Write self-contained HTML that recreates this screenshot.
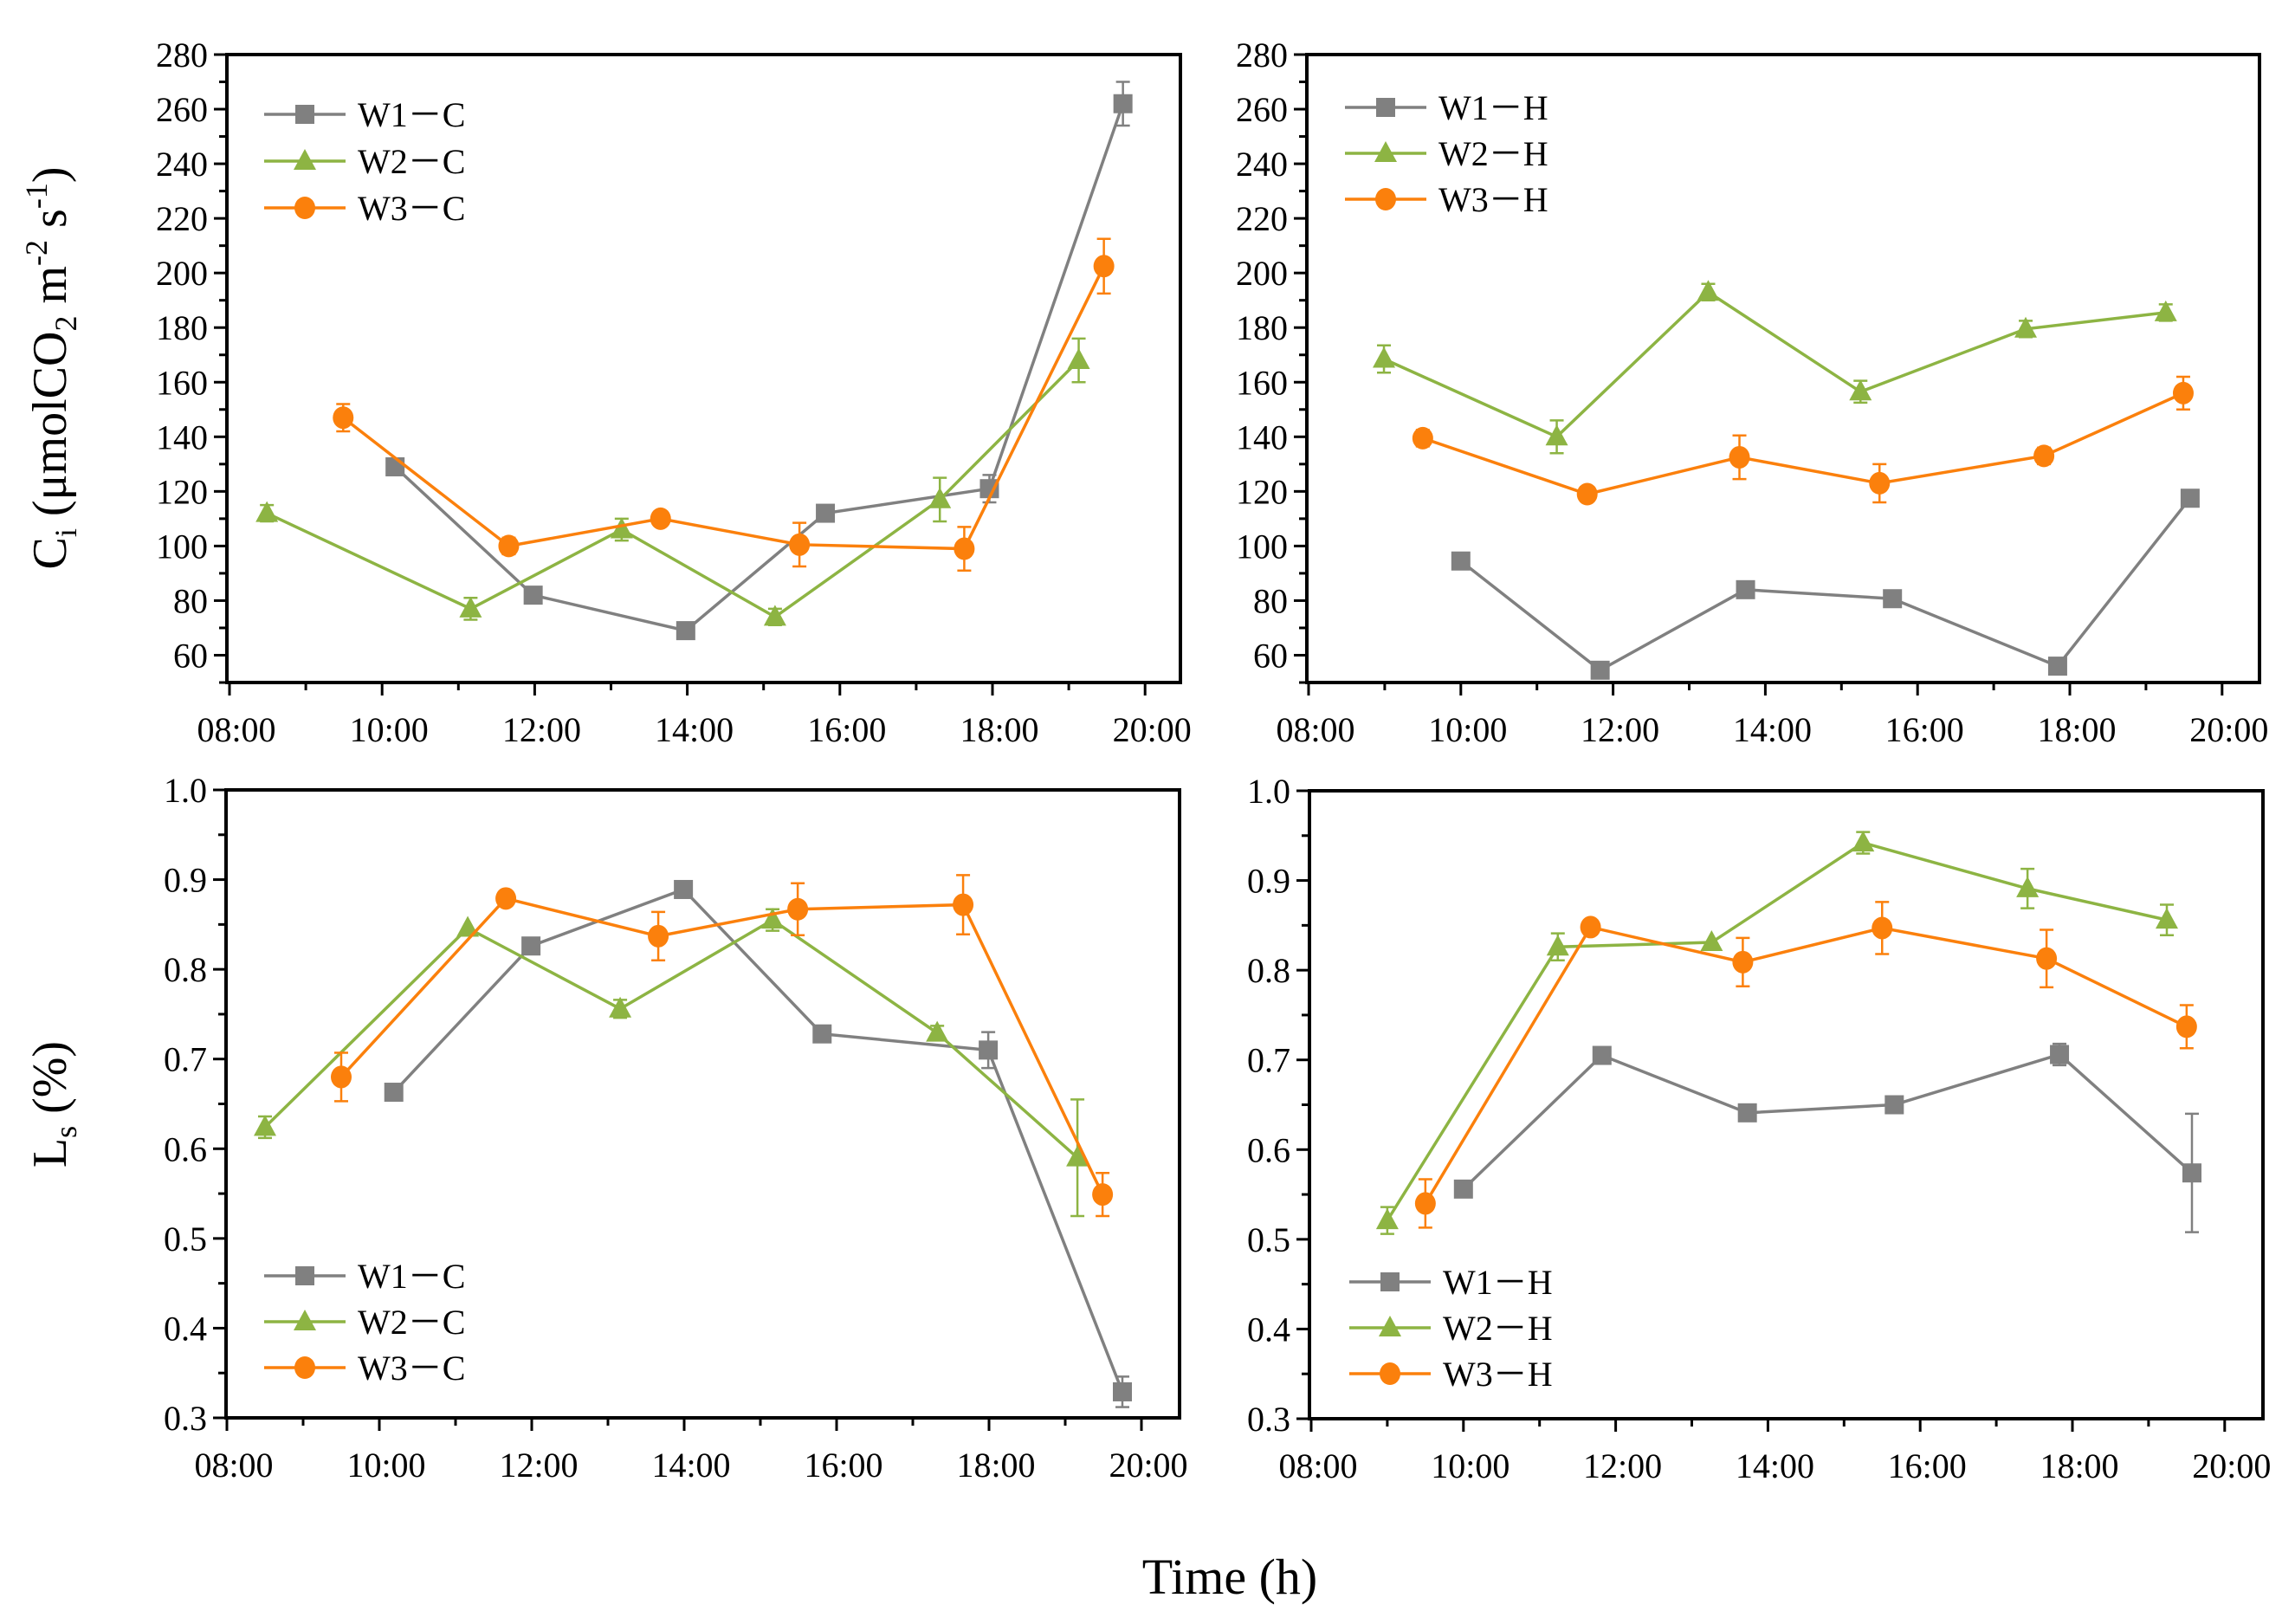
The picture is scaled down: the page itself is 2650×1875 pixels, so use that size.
<!DOCTYPE html>
<html><head><meta charset="utf-8">
<style>
html,body{margin:0;padding:0;background:#fff;}
svg{display:block;}
</style></head>
<body>
<svg id="fig" width="2650" height="1875" viewBox="0 0 2650 1875" xmlns="http://www.w3.org/2000/svg" font-family="'Liberation Serif','DejaVu Serif',serif">
<rect x="0" y="0" width="2650" height="1875" fill="#fff"/>
<text transform="translate(76,425) rotate(-90)" text-anchor="middle" font-size="56">C<tspan font-size="36" dy="12">i</tspan><tspan dy="-12"> (μmolCO</tspan><tspan font-size="36" dy="12">2</tspan><tspan dy="-12"> m</tspan><tspan font-size="36" dy="-22">-2</tspan><tspan dy="22"> s</tspan><tspan font-size="36" dy="-22">-1</tspan><tspan dy="22">)</tspan></text>
<text transform="translate(76,1275) rotate(-90)" text-anchor="middle" font-size="56">L<tspan font-size="36" dy="12">s</tspan><tspan dy="-12"> (%)</tspan></text>
<text x="1420" y="1840" text-anchor="middle" font-size="58">Time (h)</text>
</svg>
<script>
// ---- data (hours of day, values, error bars) ----
const ciC_W1_t = [10.17, 11.98, 13.98, 15.81, 17.96, 19.71];
const ciC_W1_v = [129, 82, 69, 112, 121, 262];
const ciC_W1_e = [0, 0, 0, 0, 5, 8];
const ciC_W2_t = [8.49, 11.16, 13.14, 15.15, 17.31, 19.13];
const ciC_W2_v = [112, 77, 106, 74, 117, 168];
const ciC_W2_e = [3, 4, 4, 3, 8, 8];
const ciC_W3_t = [9.49, 11.66, 13.65, 15.47, 17.63, 19.46];
const ciC_W3_v = [147, 100, 110, 100.5, 99, 202.5];
const ciC_W3_e = [5, 3, 2, 8, 8, 10];

const ciH_W1_t = [10.0, 11.83, 13.74, 15.67, 17.84, 19.58];
const ciH_W1_v = [94.5, 54.5, 84, 80.7, 56, 117.5];
const ciH_W1_e = [0, 0, 0, 3, 0, 0];
const ciH_W2_t = [8.99, 11.26, 13.25, 15.25, 17.42, 19.26];
const ciH_W2_v = [168.5, 140, 193, 156.5, 179.5, 185.5];
const ciH_W2_e = [5, 6, 3, 4, 3, 3];
const ciH_W3_t = [9.5, 11.66, 13.66, 15.5, 17.66, 19.49];
const ciH_W3_v = [139.5, 119, 132.5, 123, 133, 156];
const ciH_W3_e = [3, 0, 8, 7, 3, 6];

const lsC_W1_t = [10.19, 11.99, 13.99, 15.81, 17.99, 19.75];
const lsC_W1_v = [0.663, 0.826, 0.889, 0.728, 0.710, 0.329];
const lsC_W1_e = [0, 0, 0, 0, 0.02, 0.017];
const lsC_W2_t = [8.5, 11.16, 13.16, 15.16, 17.32, 19.16];
const lsC_W2_v = [0.624, 0.846, 0.756, 0.855, 0.729, 0.590];
const lsC_W2_e = [0.012, 0, 0.01, 0.012, 0.008, 0.065];
const lsC_W3_t = [9.5, 11.66, 13.66, 15.49, 17.66, 19.49];
const lsC_W3_v = [0.680, 0.879, 0.837, 0.867, 0.872, 0.549];
const lsC_W3_e = [0.027, 0, 0.027, 0.029, 0.033, 0.024];

const lsH_W1_t = [10.0, 11.82, 13.73, 15.66, 17.83, 19.57];
const lsH_W1_v = [0.556, 0.705, 0.641, 0.650, 0.706, 0.574];
const lsH_W1_e = [0, 0, 0, 0, 0.012, 0.066];
const lsH_W2_t = [9.0, 11.24, 13.26, 15.25, 17.41, 19.24];
const lsH_W2_v = [0.521, 0.826, 0.831, 0.942, 0.891, 0.856];
const lsH_W2_e = [0.015, 0.015, 0, 0.012, 0.022, 0.017];
const lsH_W3_t = [9.5, 11.67, 13.67, 15.5, 17.66, 19.5];
const lsH_W3_v = [0.540, 0.848, 0.809, 0.847, 0.813, 0.737];
const lsH_W3_e = [0.027, 0, 0.027, 0.029, 0.032, 0.024];

const xTickLabels = ["08:00", "10:00", "12:00", "14:00", "16:00", "18:00", "20:00"];
const ciTickLabels = ["60","80","100","120","140","160","180","200","220","240","260","280"];
const lsTickLabels = ["0.3","0.4","0.5","0.6","0.7","0.8","0.9","1.0"];
const seriesNamesC = ["W1－C", "W2－C", "W3－C"];
const seriesNamesH = ["W1－H", "W2－H", "W3－H"];

const COLORS = ["#808080", "#8db443", "#fb800c"];
const SHAPES = ["square", "triangle", "circle"];
const NS = "http://www.w3.org/2000/svg";
const svg = document.getElementById("fig");

function mk(tag, attrs, parent) {
  const e = document.createElementNS(NS, tag);
  for (const k in attrs) e.setAttribute(k, attrs[k]);
  (parent || svg).appendChild(e);
  return e;
}

function marker(g, shape, x, y, color) {
  let m;
  if (shape === "square") m = mk("rect", {x: x - 11, y: y - 11, width: 22, height: 22, fill: color}, g);
  else if (shape === "triangle") m = mk("polygon", {points: `${x},${y - 14} ${x - 13},${y + 10} ${x + 13},${y + 10}`, fill: color}, g);
  else m = mk("ellipse", {cx: x, cy: y, rx: 12, ry: 13, fill: color}, g);
  return m;
}

function panel(cfg) {
  const g = mk("g", {});
  
  
  const xs = h => cfg.x8 + (h - 8) * cfg.pxh;
  const ys = v => cfg.bottom - (v - cfg.ymin) / (cfg.ymax - cfg.ymin) * (cfg.bottom - cfg.top);
  const fr = mk("rect", {x: cfg.left, y: cfg.top, width: cfg.right - cfg.left, height: cfg.bottom - cfg.top, fill: "none", stroke: "#000", "stroke-width": 4}, g);
  
  
  for (let h = 8; h <= 20; h++) {
    const x = xs(h), major = h % 2 === 0;
    mk("line", {x1: x, x2: x, y1: cfg.bottom, y2: cfg.bottom + (major ? 15 : 9), stroke: "#000", "stroke-width": 3}, g);
  }
  xTickLabels.forEach((lab, i) => {
    const t = mk("text", {x: xs(8 + 2 * i) + 8, y: cfg.bottom + 68, "text-anchor": "middle", "font-size": 40}, g);
    
    
    t.textContent = lab;
  });
  const nMinor = Math.round((cfg.ymax - cfg.ymin) / cfg.minorStep);
  for (let i = 0; i <= nMinor; i++) {
    const v = cfg.ymin + i * cfg.minorStep;
    const major = cfg.yLabels.some(l => Math.abs(parseFloat(l) - v) < 1e-6);
    mk("line", {x1: cfg.left - (major ? 15 : 9), x2: cfg.left, y1: ys(v), y2: ys(v), stroke: "#000", "stroke-width": 3}, g);
  }
  cfg.yLabels.forEach(lab => {
    const t = mk("text", {x: cfg.left - 22, y: ys(parseFloat(lab)) + 14, "text-anchor": "end", "font-size": 40}, g);
    
    
    t.textContent = lab;
  });
  cfg.series.forEach((s, si) => {
    const sg = mk("g", {}, g);
    
    
    const col = COLORS[si];
    const pts = s.t.map((t, i) => xs(t) + "," + ys(s.v[i])).join(" ");
    const pl = mk("polyline", {points: pts, fill: "none", stroke: col, "stroke-width": 3.5}, sg);
    
    
    s.t.forEach((t, i) => {
      const x = xs(t), y = ys(s.v[i]), e = s.e[i];
      if (e > 0) {
        const y1 = ys(s.v[i] + e), y2 = ys(s.v[i] - e);
        mk("line", {x1: x, x2: x, y1: y1, y2: y2, stroke: col, "stroke-width": 2.5}, sg);
        mk("line", {x1: x - 8, x2: x + 8, y1: y1, y2: y1, stroke: col, "stroke-width": 2.5}, sg);
        mk("line", {x1: x - 8, x2: x + 8, y1: y2, y2: y2, stroke: col, "stroke-width": 2.5}, sg);
      }
      const m = marker(sg, SHAPES[si], x, y, col);
      
      
    });
  });
  cfg.names.forEach((nm, i) => {
    const lg = mk("g", {}, g);
    
    
    const y = cfg.legY + i * cfg.legDy, x0 = cfg.legX;
    mk("line", {x1: x0, x2: x0 + 94, y1: y, y2: y, stroke: COLORS[i], "stroke-width": 3.5}, lg);
    marker(lg, SHAPES[i], x0 + 47, y, COLORS[i]);
    const t = mk("text", {x: x0 + 108, y: y + 14, "font-size": 40}, lg);
    t.textContent = nm;
  });
}

panel({name: "panel-ci-c", left: 262, right: 1363, top: 63, bottom: 788, x8: 265, pxh: 88.1,
  ymin: 50, ymax: 280, minorStep: 10, yLabels: ciTickLabels, names: seriesNamesC,
  legX: 305, legY: 132, legDy: 54,
  series: [{t: ciC_W1_t, v: ciC_W1_v, e: ciC_W1_e}, {t: ciC_W2_t, v: ciC_W2_v, e: ciC_W2_e}, {t: ciC_W3_t, v: ciC_W3_v, e: ciC_W3_e}]});
panel({name: "panel-ci-h", left: 1509, right: 2609, top: 63, bottom: 788, x8: 1511, pxh: 87.9,
  ymin: 50, ymax: 280, minorStep: 10, yLabels: ciTickLabels, names: seriesNamesH,
  legX: 1553, legY: 124, legDy: 53,
  series: [{t: ciH_W1_t, v: ciH_W1_v, e: ciH_W1_e}, {t: ciH_W2_t, v: ciH_W2_v, e: ciH_W2_e}, {t: ciH_W3_t, v: ciH_W3_v, e: ciH_W3_e}]});
panel({name: "panel-ls-c", left: 261, right: 1362, top: 912, bottom: 1637, x8: 262, pxh: 88.0,
  ymin: 0.3, ymax: 1.0, minorStep: 0.05, yLabels: lsTickLabels, names: seriesNamesC,
  legX: 305, legY: 1473, legDy: 53,
  series: [{t: lsC_W1_t, v: lsC_W1_v, e: lsC_W1_e}, {t: lsC_W2_t, v: lsC_W2_v, e: lsC_W2_e}, {t: lsC_W3_t, v: lsC_W3_v, e: lsC_W3_e}]});
panel({name: "panel-ls-h", left: 1512, right: 2613, top: 913, bottom: 1638, x8: 1514, pxh: 87.9,
  ymin: 0.3, ymax: 1.0, minorStep: 0.05, yLabels: lsTickLabels, names: seriesNamesH,
  legX: 1558, legY: 1480, legDy: 53,
  series: [{t: lsH_W1_t, v: lsH_W1_v, e: lsH_W1_e}, {t: lsH_W2_t, v: lsH_W2_v, e: lsH_W2_e}, {t: lsH_W3_t, v: lsH_W3_v, e: lsH_W3_e}]});
</script>
</body></html>
